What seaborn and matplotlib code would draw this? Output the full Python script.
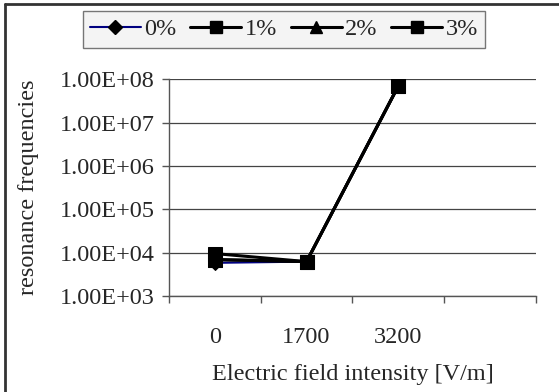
import pandas as pd
import matplotlib.pyplot as plt
import seaborn as sns
from matplotlib.lines import Line2D
from matplotlib.ticker import FixedLocator, FuncFormatter

# ── data ──────────────────────────────
fields = ['0', '1700', '3200']
f_0 = [5.8e3, 6.2e3, 7.0e7]
f_1 = [9.5e3, 6.2e3, 7.0e7]
f_2 = [6.9e3, 6.2e3, 7.0e7]
f_3 = [6.9e3, 6.2e3, 7.0e7]
series = ['0%', '1%', '2%', '3%']

df = pd.DataFrame({'Field': fields * 4,
                   'Freq': f_0 + f_1 + f_2 + f_3,
                   'Series': [s for s in series for _ in fields]})

sns.set_style("white")
plt.rcParams['font.family'] = ['Liberation Serif', 'DejaVu Serif']
FS = 17.5

fig = plt.figure(figsize=(5.59, 3.92), dpi=100)
ax = fig.add_axes([0.302, 0.245, 0.657, 0.553])

styles = {'0%': ('#000080', 'D', 1.5, 7),
          '1%': ('black', 's', 2.2, 10),
          '2%': ('black', '^', 2.2, 10),
          '3%': ('black', 's', 2.2, 10)}

for s in series:
    col, mk, lw, ms = styles[s]
    sns.lineplot(data=df[df['Series'] == s], x='Field', y='Freq', ax=ax,
                 color=col, marker=mk, markersize=ms, linewidth=lw,
                 markerfacecolor='black', markeredgecolor='black',
                 sort=False, legend=False)

ax.set_yscale('log')
ax.set_ylim(1e3, 1e8)
ax.set_xlim(-0.5, 3.5)
ax.yaxis.set_major_locator(FixedLocator([1e3, 1e4, 1e5, 1e6, 1e7, 1e8]))
ax.yaxis.set_minor_locator(FixedLocator([]))
ax.yaxis.set_major_formatter(FuncFormatter(lambda v, p: f'{v:.2E}'))
ax.grid(axis='y', color='#444444', linewidth=0.9)
ax.set_axisbelow(True)

ax.set_xticks([0, 1, 2])
ax.set_xticklabels(fields)
ax.tick_params(axis='x', which='major', length=0, pad=22, labelsize=FS)
ax.set_xticks([-0.5, 0.5, 1.5, 2.5, 3.5], minor=True)
ax.tick_params(axis='x', which='minor', length=5, width=1, color='#555555',
               direction='out', bottom=True)
ax.tick_params(axis='y', length=5, width=1, color='#555555',
               direction='out', left=True, labelsize=FS, pad=5)

for sp in ['top', 'right']:
    ax.spines[sp].set_visible(False)
for sp in ['left', 'bottom']:
    ax.spines[sp].set_color('#555555')
    ax.spines[sp].set_linewidth(1)

ax.set_xlabel('Electric field intensity [V/m]', fontsize=FS, labelpad=12)
ax.set_ylabel('resonance frequencies', fontsize=FS, labelpad=15)

handles = []
for s in series:
    col, mk, lw, ms = styles[s]
    handles.append(Line2D([], [], color=col, marker=mk, linewidth=lw,
                          markersize=ms if mk == 'D' else ms - 1,
                          markerfacecolor='black', markeredgecolor='black'))
leg = fig.legend(handles, series, loc='center', bbox_to_anchor=(0.508, 0.925),
                 ncol=4, fontsize=FS, frameon=True, fancybox=False,
                 handlelength=2.1, handletextpad=0.15, columnspacing=0.55,
                 borderpad=0.3, borderaxespad=0)
leg.get_frame().set_facecolor('#f2f2f2')
leg.get_frame().set_edgecolor('#555555')
leg.get_frame().set_linewidth(1)

# outer frame (left and top edges only visible)
fig.add_artist(Line2D([0.009, 0.009], [0, 0.99], color='#333333', linewidth=2,
                      transform=fig.transFigure))
fig.add_artist(Line2D([0.009, 1], [0.99, 0.99], color='#333333', linewidth=2,
                      transform=fig.transFigure))

plt.savefig('out.png', dpi=100)
